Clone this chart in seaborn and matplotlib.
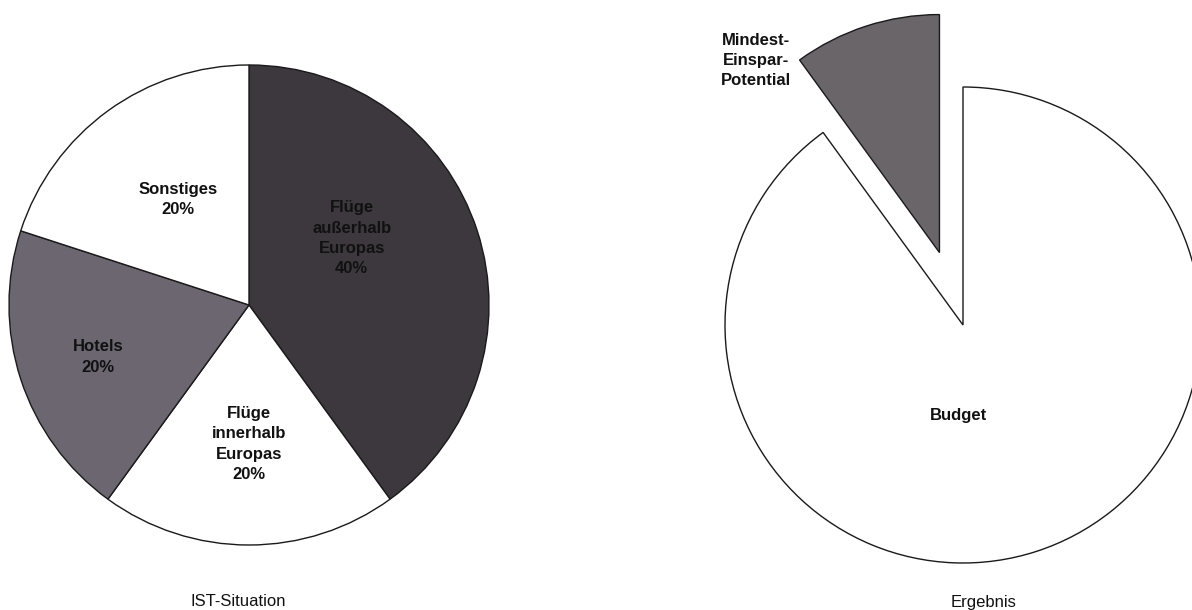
import numpy as np
import matplotlib
matplotlib.use("Agg")
import matplotlib.pyplot as plt
import seaborn as sns

sns.set_theme(style="white")
plt.rcParams['font.family'] = ['Liberation Sans', 'DejaVu Sans']

# ---- data ----
left_labels = ["Flüge\naußerhalb\nEuropas", "Flüge\ninnerhalb\nEuropas", "Hotels", "Sonstiges"]
left_values = [40, 20, 20, 20]
left_title = "IST-Situation"

right_labels = ["Budget", "Mindest-\nEinspar-\nPotential"]
right_values = [90, 10]
right_title = "Ergebnis"

# ---- style ----
left_colors = ["#3d383d", "#ffffff", "#6b6670", "#ffffff"]
right_colors = ["#ffffff", "#6a6569"]
right_explode = [0, 0.32]
# label placement (distance from centre in radii, angle in degrees)
left_label_pos = [(0.51, 33), (0.58, 270), (0.665, 199), (0.53, 124)]
right_label_pos = [(0.38, 267), (1.41, 128)]
edge = dict(edgecolor="#1a1a1a", linewidth=1.0)

W, H = 1192, 610
fig = plt.figure(figsize=(W / 100, H / 100), dpi=100)
fig.patch.set_facecolor("white")


def make_axes(cx, cy, R, x0, x1, y0, y1):
    # pixel box (x0..x1, y0..y1 from top) with pie centre (cx, cy) and radius R
    ax = fig.add_axes([x0 / W, (H - y1) / H, (x1 - x0) / W, (y1 - y0) / H])
    return ax, ((x0 - cx) / R, (x1 - cx) / R), ((cy - y1) / R, (cy - y0) / R)


def place_labels(ax, labels, values, pos, fontsize=12):
    for lab, v, (r, a) in zip(labels, values, pos):
        t = np.deg2rad(a)
        txt = lab if "Potential" in lab or lab == "Budget" else f"{lab}\n{v}%"
        ax.text(r * np.cos(t), r * np.sin(t), txt, ha="center", va="center",
                fontsize=fontsize, fontweight="bold", color="#111111", linespacing=1.45)


# left pie
axL, xlL, ylL = make_axes(249, 305, 240, 0, 500, 0, 600)
axL.pie(left_values, colors=left_colors, startangle=90, counterclock=False,
        wedgeprops=edge)
place_labels(axL, left_labels, left_values, left_label_pos)
axL.set_xlim(*xlL)
axL.set_ylim(*ylL)
axL.set_aspect("auto")
axL.axis("off")

# right pie
axR, xlR, ylR = make_axes(963, 325, 238, 700, 1192, 0, 600)
axR.pie(right_values, colors=right_colors, startangle=90, counterclock=False,
        explode=right_explode, wedgeprops=edge)
place_labels(axR, right_labels, right_values, right_label_pos)
axR.set_xlim(*xlR)
axR.set_ylim(*ylR)
axR.set_aspect("auto")
axR.axis("off")

fig.text(238 / W, 1 - 602 / H, left_title, ha="center", va="center", fontsize=12, color="#111111")
fig.text(984 / W, 1 - 602 / H, right_title, ha="center", va="center", fontsize=12, color="#111111")

fig.savefig("out.png", dpi=100, facecolor="white")
